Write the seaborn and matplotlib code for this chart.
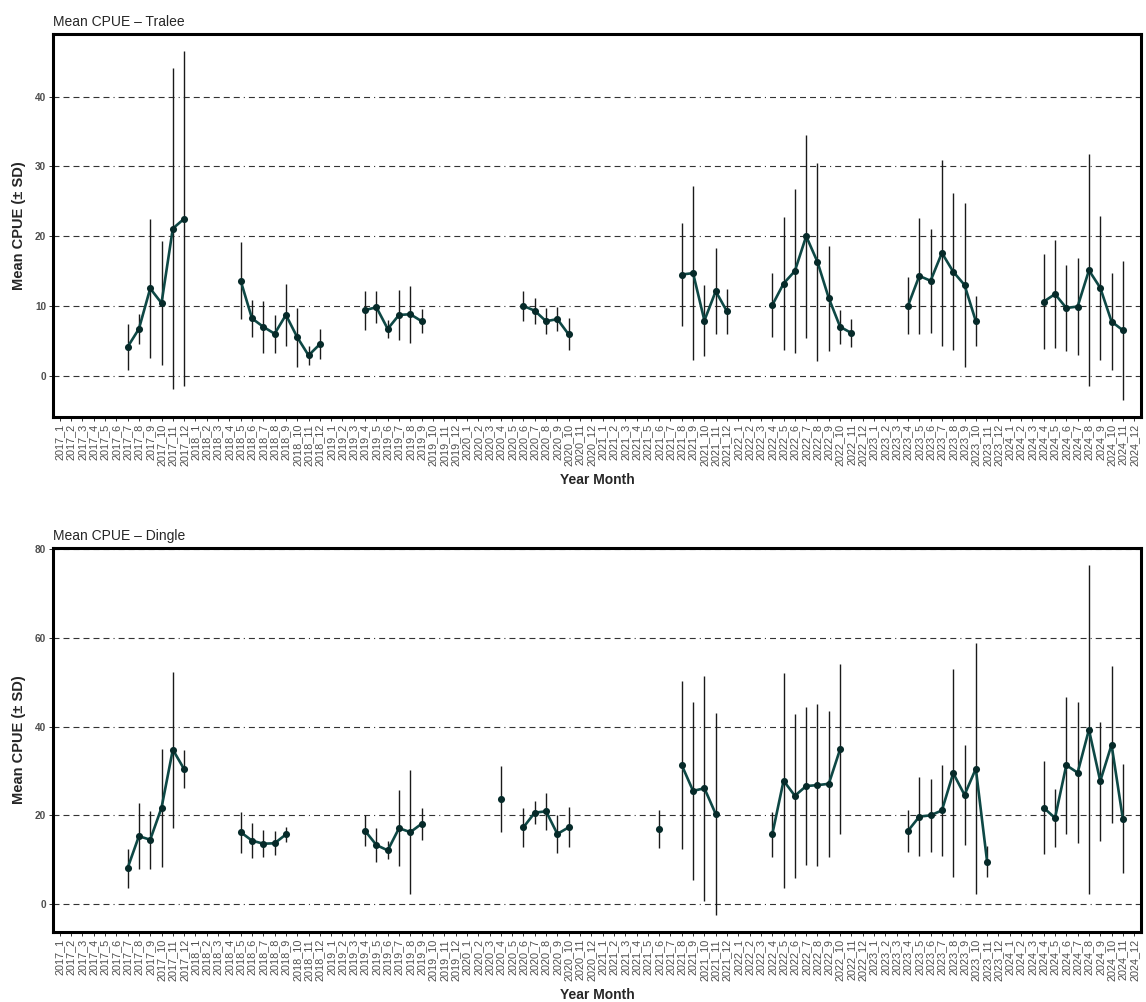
import matplotlib
matplotlib.use("Agg")
import matplotlib.pyplot as plt
import seaborn as sns
import numpy as np
import pandas as pd

# x axis categories: every month 2017-2024
years = [2017, 2018, 2019, 2020, 2021, 2022, 2023, 2024]
month_labels = [f"{y}_{m}" for y in years for m in range(1, 13)]

# Tralee - monthly mean CPUE and SD
tralee_months = ["2017_7", "2017_8", "2017_9", "2017_10", "2017_11", "2017_12",
                 "2018_5", "2018_6", "2018_7", "2018_8", "2018_9", "2018_10", "2018_11", "2018_12",
                 "2019_4", "2019_5", "2019_6", "2019_7", "2019_8", "2019_9",
                 "2020_6", "2020_7", "2020_8", "2020_9", "2020_10",
                 "2021_8", "2021_9", "2021_10", "2021_11", "2021_12",
                 "2022_4", "2022_5", "2022_6", "2022_7", "2022_8", "2022_9", "2022_10", "2022_11",
                 "2023_4", "2023_5", "2023_6", "2023_7", "2023_8", "2023_9", "2023_10",
                 "2024_4", "2024_5", "2024_6", "2024_7", "2024_8", "2024_9", "2024_10", "2024_11"]
tralee_mean = [4.1, 6.7, 12.5, 10.4, 21.1, 22.5,
               13.6, 8.2, 7.0, 6.0, 8.7, 5.5, 2.9, 4.5,
               9.4, 9.8, 6.7, 8.7, 8.8, 7.8,
               10.0, 9.3, 7.8, 8.1, 5.9,
               14.5, 14.7, 7.9, 12.1, 9.2,
               10.1, 13.2, 15.0, 20.0, 16.3, 11.1, 7.0, 6.1,
               10.0, 14.3, 13.6, 17.6, 14.9, 13.0, 7.8,
               10.6, 11.7, 9.7, 9.9, 15.1, 12.6, 7.75, 6.5]
tralee_sd = [3.25, 2.15, 10.0, 8.85, 23.0, 24.0,
             5.55, 2.7, 3.7, 2.7, 4.45, 4.25, 1.4, 2.15,
             2.8, 2.3, 1.3, 3.6, 4.1, 1.75,
             2.15, 1.9, 1.9, 1.75, 2.3,
             7.35, 12.45, 5.05, 6.2, 3.2,
             4.55, 9.55, 11.75, 14.55, 14.25, 7.55, 2.45, 2.05,
             4.1, 8.35, 7.45, 13.35, 11.3, 11.8, 3.55,
             6.8, 7.7, 6.15, 6.95, 16.65, 10.35, 6.9, 9.95]

# Dingle - monthly mean CPUE and SD
dingle_months = ["2017_7", "2017_8", "2017_9", "2017_10", "2017_11", "2017_12",
                 "2018_5", "2018_6", "2018_7", "2018_8", "2018_9",
                 "2019_4", "2019_5", "2019_6", "2019_7", "2019_8", "2019_9",
                 "2020_4",
                 "2020_6", "2020_7", "2020_8", "2020_9", "2020_10",
                 "2021_6",
                 "2021_8", "2021_9", "2021_10", "2021_11",
                 "2022_4", "2022_5", "2022_6", "2022_7", "2022_8", "2022_9", "2022_10",
                 "2023_4", "2023_5", "2023_6", "2023_7", "2023_8", "2023_9", "2023_10", "2023_11",
                 "2024_4", "2024_5", "2024_6", "2024_7", "2024_8", "2024_9", "2024_10", "2024_11"]
dingle_mean = [8.1, 15.3, 14.5, 21.7, 34.8, 30.4,
               16.2, 14.3, 13.6, 13.7, 15.7,
               16.5, 13.3, 12.1, 17.1, 16.2, 18.1,
               23.6,
               17.3, 20.6, 20.9, 15.8, 17.3,
               16.9,
               31.3, 25.5, 26.1, 20.3,
               15.7, 27.8, 24.4, 26.6, 26.8, 27.1, 34.9,
               16.5, 19.7, 20.0, 21.1, 29.5, 24.6, 30.5, 9.5,
               21.7, 19.4, 31.3, 29.6, 39.3, 27.7, 35.9, 19.2]
dingle_sd = [4.4, 7.45, 6.55, 13.25, 17.6, 4.3,
             4.65, 3.9, 3.05, 2.7, 1.65,
             3.5, 3.8, 2.0, 8.6, 14.0, 3.55,
             7.45,
             4.45, 2.65, 4.15, 4.3, 4.55,
             4.35,
             18.95, 20.1, 25.3, 22.65,
             5.15, 24.2, 18.5, 17.75, 18.2, 16.5, 19.2,
             4.8, 8.95, 8.25, 10.2, 23.4, 11.2, 28.3, 3.5,
             10.5, 6.45, 15.45, 15.85, 37.0, 13.4, 17.7, 12.25]

tralee_ticks = [0, 10, 20, 30, 40]
dingle_ticks = [0, 20, 40, 60, 80]


def make_frame(months, means, sds):
    df = pd.DataFrame({"Year_Month": months, "mean": means, "sd": sds})
    df["pos"] = df["Year_Month"].map({lab: i for i, lab in enumerate(month_labels)})
    # consecutive months share a run so the line breaks over gaps
    df["run"] = (df["pos"].diff() != 1).cumsum()
    return df


tralee_df = make_frame(tralee_months, tralee_mean, tralee_sd)
dingle_df = make_frame(dingle_months, dingle_mean, dingle_sd)

sns.set_theme(style="white")
plt.rcParams["font.family"] = ["Liberation Sans", "DejaVu Sans"]
plt.rcParams["lines.scale_dashes"] = False

line_col = "#0E4845"
point_col = "#062A29"
grid_dash = (0, (4.3, 2.9, 4.3, 2.9, 4.3, 2.9, 4.3, 2.9, 4.3, 2.9, 4.3, 2.9, 0.8, 2.9))

fig = plt.figure(figsize=(11.46, 10.02), dpi=100)
ax_top = fig.add_axes([0.0462, 0.5838, 0.9494, 0.3822])
ax_bot = fig.add_axes([0.0462, 0.0699, 0.9494, 0.3832])

panels = [(ax_top, tralee_df, "Mean CPUE \u2013 Tralee", tralee_ticks),
          (ax_bot, dingle_df, "Mean CPUE \u2013 Dingle", dingle_ticks)]

for ax, df, title, yticks in panels:
    lo = (df["mean"] - df["sd"]).min()
    hi = (df["mean"] + df["sd"]).max()
    pad = 0.05 * (hi - lo)

    ax.vlines(df["pos"], df["mean"] - df["sd"], df["mean"] + df["sd"],
              color="#1a1a1a", linewidth=1.0, zorder=2)
    sns.lineplot(data=df, x="pos", y="mean", units="run", estimator=None,
                 color=line_col, linewidth=1.9, ax=ax, legend=False, zorder=3)
    sns.scatterplot(data=df, x="pos", y="mean", color=point_col, s=26,
                    linewidth=0, ax=ax, legend=False, zorder=4)

    ax.set_xlim(-0.6, len(month_labels) - 0.4)
    ax.set_ylim(lo - pad, hi + pad)
    ax.set_xticks(range(len(month_labels)))
    ax.set_xticklabels(month_labels, rotation=90, va="top", ha="center")
    ax.set_yticks(yticks)

    ax.set_axisbelow(True)
    ax.yaxis.grid(True, color="#333333", linestyle=grid_dash, linewidth=0.8)
    ax.xaxis.grid(False)

    for sp in ax.spines.values():
        sp.set_visible(True)
        sp.set_color("black")
        sp.set_linewidth(2.2)

    ax.tick_params(axis="x", bottom=True, length=3, width=0.7, color="#333333",
                   labelsize=7.8, labelcolor="#4D4D4D", pad=2)
    ax.tick_params(axis="y", left=True, length=3, width=0.7, color="#333333",
                   labelsize=7.2, labelcolor="#4D4D4D", pad=2)
    for lab in ax.get_yticklabels():
        lab.set_fontweight("bold")

    ax.set_xlabel("Year Month", fontsize=10, fontweight="bold", labelpad=5)
    ax.set_ylabel("Mean CPUE (\u00b1 SD)", fontsize=10.5, fontweight="bold", labelpad=6)
    ax.set_title(title, loc="left", fontsize=10, pad=6)

fig.savefig("out.png", dpi=100)
